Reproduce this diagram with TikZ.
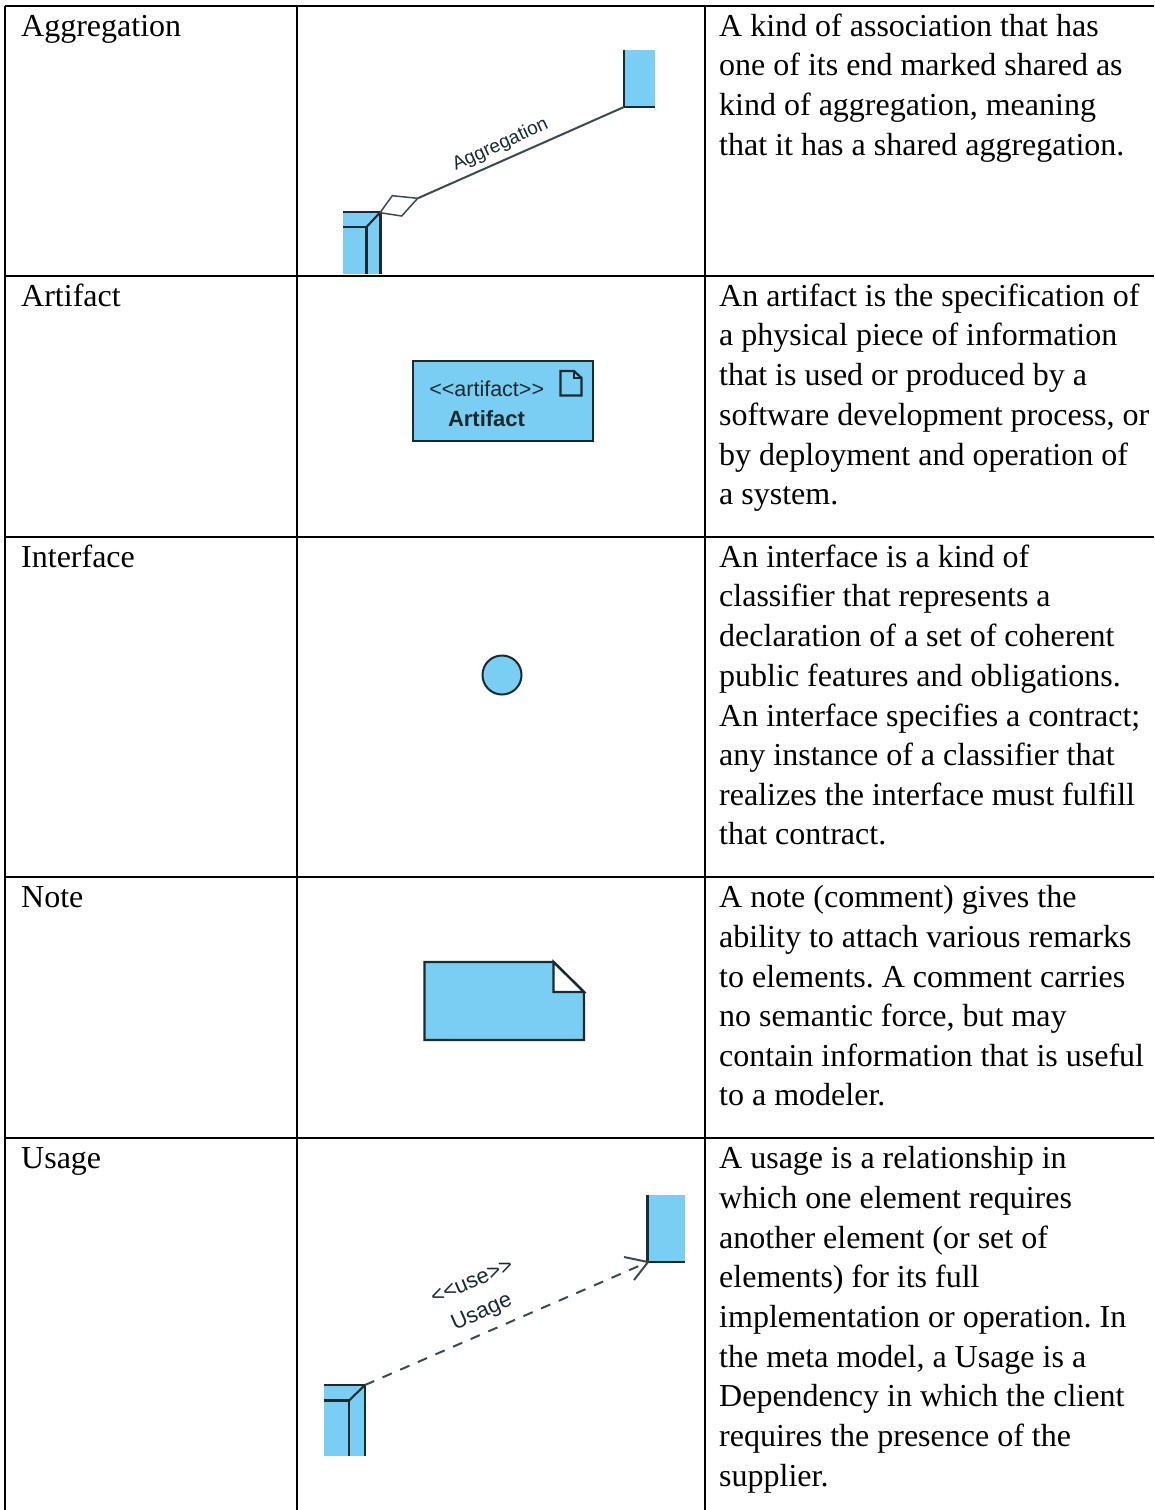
\documentclass[tikz,border=0pt]{standalone}
\usepackage{fontspec}
\setmainfont{Liberation Serif}
\setsansfont{Liberation Sans}
\definecolor{umlblue}{HTML}{7ACEF4}
\definecolor{umlline}{HTML}{1A2A30}
\frenchspacing
\tikzset{
 grid line/.style={draw=black,line width=1.3pt},
 shape line/.style={draw=umlline,line width=2.4pt},
 thin shape/.style={draw=umlline,line width=2.1pt},
 connector/.style={draw=umlline!85,line width=2pt},
 body/.style={anchor=base west,inner sep=0pt,font=\fontsize{32}{39}\selectfont},
 small/.style={inner sep=0pt,font=\sffamily\fontsize{21.5}{24}\selectfont,text=umlline},
}
\newcommand{\txt}[3]{\node[body] at (#1,#2) {#3};}
\begin{document}
\begin{tikzpicture}[x=1pt,y=-1pt]
\useasboundingbox (0,0) rectangle (1154,1510);
\fill[white] (0,0) rectangle (1154,1510);
% table
\foreach \y in {6,276,537,877,1138} \draw[grid line] (5,\y) -- (1154,\y);
\foreach \x in {5,297,705} \draw[grid line] (\x,6) -- (\x,1510);
% first column
\txt{21}{36}{Aggregation}
\txt{21}{306}{Artifact}
\txt{21}{567}{Interface}
\txt{21}{907}{Note}
\txt{21}{1168}{Usage}
% third column
\foreach \y/\t in {36/A kind of association that has,75/one of its end marked shared as,115/kind of aggregation\comma{} meaning,155/that it has a shared aggregation.,
306/An artifact is the specification of,345/a physical piece of information,385/that is used or produced by a,425/software development process\comma{} or,465/by deployment and operation of,504/a system.,
567/An interface is a kind of,606/classifier that represents a,646/declaration of a set of coherent,686/public features and obligations.,726/An interface specifies a contract;,765/any instance of a classifier that,805/realizes the interface must fulfill,844/that contract.,
907/A note (comment) gives the,947/ability to attach various remarks,987/to elements. A comment carries,1026/no semantic force\comma{} but may,1066/contain information that is useful,1105/to a modeler.,
1168/A usage is a relationship in,1208/which one element requires,1248/another element (or set of,1287/elements) for its full,1327/implementation or operation. In,1367/the meta model\comma{} a Usage is a,1406/Dependency in which the client,1446/requires the presence of the,1486/supplier.}
 {\def\comma{,}\txt{719}{\y}{\t}}
% Aggregation
\fill[umlblue] (624,50) rectangle (655,107);
\draw[shape line] (624,50) -- (624,107) -- (655,107);
\fill[umlblue] (343,212) rectangle (381,274);
\draw[thin shape] (343,212) -- (380.5,212) -- (380.5,274);
\draw[thin shape] (343,227) -- (366.5,227) -- (366.5,274);
\draw[thin shape] (366.5,227) -- (380.5,212);
\coordinate (aggA) at (417.7,198.3);
\coordinate (aggB) at (624,107);
\coordinate (agg1) at (380,212.7);
\coordinate (agg2) at (392.3,195.7);
\coordinate (agg3) at (401.7,216);
\draw[connector] (aggA) -- (aggB);
\draw[connector,line width=1.5pt] (agg1) -- (agg2) -- (aggA) -- (agg3) -- cycle;
\node[small,rotate=24.5,font=\sffamily\fontsize{19}{24}\selectfont] (agglabel) at (500.5,145) {Aggregation};
% Artifact
\node[fill=umlblue,shape line,line width=2.1pt,minimum width=180.5pt,minimum height=80pt,inner sep=0pt] (artifact) at (503,401.3) {};
\node[small] (arttype) at (486.7,389) {<{}<artifact>{}>};
\node[small,font=\sffamily\bfseries\fontsize{22}{24}\selectfont] (artname) at (486.5,419) {Artifact};
\draw[thin shape,line width=2.2pt,line join=miter] (574,371) -- (560.5,371) -- (560.5,395.5) -- (581.5,395.5) -- (581.5,378) -- cycle;
\draw[thin shape,line width=1.2pt] (574,371) -- (574,378) -- (581.5,378);
% Interface
\node[circle,fill=umlblue,shape line,line width=2pt,minimum size=39pt,inner sep=0pt] (iface) at (502,675) {};
% Note
\draw[shape line,fill=umlblue,line join=miter] (424.5,962) -- (553.5,962) -- (584,992) -- (584,1040) -- (424.5,1040) -- cycle;
\draw[shape line,fill=white,line join=miter] (553.5,962) -- (584,992) -- (553.5,992) -- cycle;
% Usage
\fill[umlblue] (647.5,1195) rectangle (685,1262);
\draw[shape line] (647.5,1195) -- (647.5,1262) -- (685,1262);
\fill[umlblue] (324,1385) rectangle (365,1456);
\draw[thin shape] (324,1385) -- (365,1385) -- (365,1456);
\draw[thin shape] (324,1400.5) -- (349,1400.5) -- (349,1456);
\draw[thin shape] (349,1400.5) -- (365,1385);
\coordinate (useA) at (365,1385);
\coordinate (useB) at (648,1262);
\coordinate (useArm1) at (624,1257);
\coordinate (useArm2) at (634,1280);
\draw[connector,dash pattern=on 10pt off 9.2pt] (useA) -- (useB);
\draw[connector] (useArm1) -- (useB) -- (useArm2);
\node[small,rotate=23,font=\sffamily\fontsize{22}{24}\selectfont] (usetype) at (472,1282) {<{}<use>{}>};
\node[small,rotate=24,font=\sffamily\fontsize{22}{24}\selectfont] (uselabel) at (482,1313) {Usage};
\end{tikzpicture}
\end{document}
